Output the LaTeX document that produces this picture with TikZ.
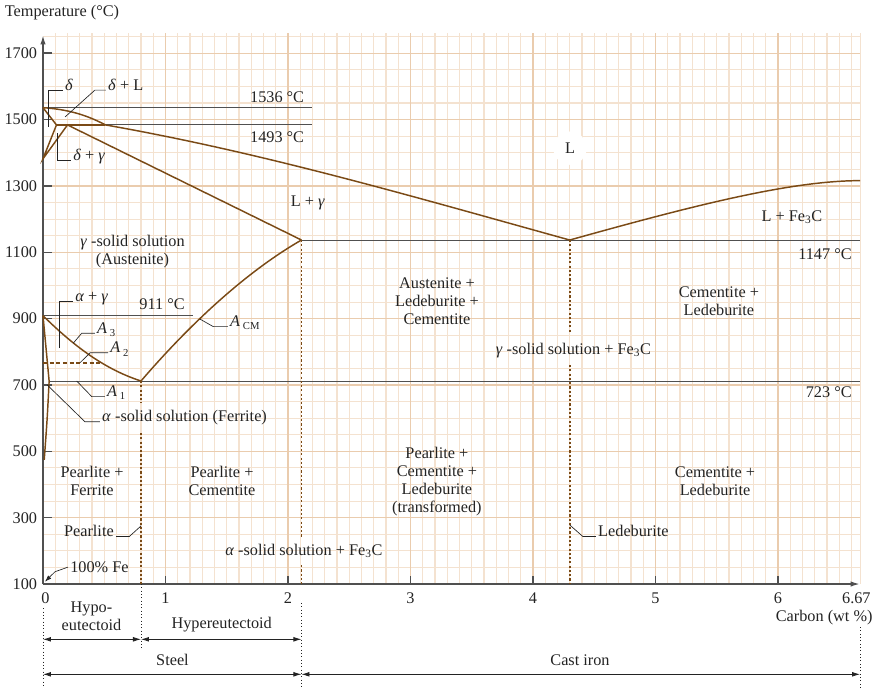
\documentclass[tikz,border=0pt]{standalone}
\usepackage{fontspec}
\setmainfont{Liberation Serif}
\usepackage{tikz}
\usetikzlibrary{arrows.meta,positioning,calc}

\definecolor{phasebrown}{RGB}{122,74,22}
\definecolor{gridminor}{RGB}{244,226,208}
\definecolor{gridmajor}{RGB}{234,204,174}
\definecolor{refgray}{RGB}{80,80,80}
\definecolor{ink}{RGB}{35,35,35}

\newcommand{\crit}[1]{\textit{A}\,\raisebox{-0.45ex}{\footnotesize #1}}

\begin{document}
\begin{tikzpicture}[x=91.875pt, y=0.2488pt,
    font=\fontsize{12.2}{13.5}\selectfont,
    phase/.style={draw=phasebrown, line width=1.1pt},
    eut/.style={draw=phasebrown, line width=1.3pt, dash pattern=on 1.6pt off 1.6pt},
    refline/.style={draw=refgray, line width=0.7pt},
    axisline/.style={draw=refgray, line width=1.2pt},
    leader/.style={draw=ink, line width=0.5pt},
    guide/.style={draw=ink, line width=0.5pt, dotted},
    lbl/.style={text=ink, inner sep=1.5pt},
    stack/.style={lbl, align=center},
    span/.style={draw=ink, line width=0.6pt, {Latex[length=6pt,width=3.6pt]}-{Latex[length=6pt,width=3.6pt]}}]
    \useasboundingbox (-0.351,-213.5) rectangle (6.833,1860.6);

    % Grid
    \foreach \c in {1,...,66} \draw[gridminor, line width=0.8pt] (\c/10,100) -- (\c/10,1760);
    \draw[gridminor, line width=0.8pt] (6.67,100) -- (6.67,1760);
    \foreach \t in {150,200,...,1750} \draw[gridminor, line width=0.8pt] (0,\t) -- (6.67,\t);
    \foreach \c in {1,...,6} \draw[gridmajor, line width=0.9pt] (\c,100) -- (\c,1760);
    \foreach \t in {300,500,...,1700} \draw[gridmajor, line width=0.9pt] (0,\t) -- (6.67,\t);

    % Axes
    \draw[axisline, -{Latex[length=7pt,width=4pt]}] (0,100) -- (0,1755);
    \draw[axisline, -{Latex[length=7pt,width=4pt]}] (0,100) -- (6.67,100);
    \foreach \t in {300,500,...,1700} \draw[axisline] (0,\t) -- (0.073,\t);
    \foreach \c in {1,...,6} \draw[axisline] (\c,100) -- (\c,124);
    \foreach \t in {100,300,...,1700} \node[lbl, anchor=east] (t\t) at (-0.03,\t) {\t};
    \node[lbl] (c0) at (0.02,57.8) {0};
    \foreach \c in {1,...,6} \node[lbl] (c\c) at (\c,57.8) {\c};
    \node[lbl] (cmax) at (6.64,57.8) {6.67};
    \node[lbl, anchor=east] (xname) at (6.79,-2.5) {Carbon (wt \%)};
    \node[lbl, anchor=west] (yname) at (-0.33,1824) {Temperature (°C)};

    % Key points
    \coordinate (A) at (0,1536);
    \coordinate (H) at (0.11,1484);
    \coordinate (J) at (0.2,1484);
    \coordinate (B) at (0.51,1484);
    \coordinate (N) at (0,1382);
    \coordinate (C) at (4.3,1137);
    \coordinate (D) at (6.67,1316);
    \coordinate (E) at (2.11,1137);
    \coordinate (G) at (0,909);
    \coordinate (S) at (0.8,712);
    \coordinate (P) at (0.05,712);
    \coordinate (Q) at (0.01,474);

    % Temperature lines
    \draw[refline] (A) -- (2.196,1536);
    \draw[refline] (H) -- (2.196,1484);
    \draw[refline] (E) -- (6.67,1137);
    \draw[refline] (G) -- (1.227,909);
    \draw[refline] (P) -- (6.67,712);

    % Phase boundaries
    \draw[phase] (A) .. controls (0.25,1530) and (0.4,1505) .. (B)
        .. controls (1.8,1400) and (3.0,1270) .. (C)
        .. controls (5.3,1240) and (6.1,1316) .. (D);
    \draw[phase] (A) -- (H) -- (N) -- (J);
    \draw[phase] (H) -- (B);
    \draw[phase] (J) -- (E);
    \draw[phase] (G) .. controls (0.25,818) and (0.5,748) .. (S)
        .. controls (1.25,905) and (1.7,1050) .. (E);
    \draw[phase] (G) -- (P) .. controls (0.035,600) .. (Q);
    \draw[phase, line width=1.2pt, dash pattern=on 3pt off 2pt] (0,767) -- (0.475,767);

    % Dotted verticals
    \draw[eut] (S) -- (0.8,646);
    \draw[eut] (0.8,555) -- (0.8,100);
    \draw[eut] (E) -- (2.11,239);
    \draw[eut] (2.11,157) -- (2.11,100);
    \draw[eut] (C) -- (4.3,857);
    \draw[eut] (4.3,760) -- (4.3,100);

    % Temperatures
    \node[lbl, anchor=east] (t1536) at (2.15,1568) {1536 °C};
    \node[lbl, anchor=east] (t1493) at (2.15,1448) {1493 °C};
    \node[lbl, anchor=east] (t911) at (1.175,944) {911 °C};
    \node[lbl, anchor=east] (t1147) at (6.62,1094) {1147 °C};
    \node[lbl, anchor=east] (t723) at (6.62,679) {723 °C};

    % Small fields with leaders
    \node[lbl, anchor=base west] (dlt) at (0.163,1587) {\textit{δ}};
    \draw[leader] (0.043,1479) |- (dlt.base west);
    \node[lbl, anchor=base west] (dL) at (0.514,1589) {\textit{δ} + L};
    \draw[leader] (0.18,1508) -- (0.424,1589) -- (dL.base west);
    \node[lbl, anchor=base west] (dg) at (0.229,1376) {\textit{δ} + \textit{γ}};
    \draw[leader] (0.117,1459) |- (dg.base west);
    \node[lbl, anchor=base west] (ag) at (0.245,951) {\textit{α} + \textit{γ}};
    \draw[leader] (0.133,811) |- (ag.base west);
    \node[lbl, anchor=base west] (a3) at (0.424,856) {\crit{3}};
    \draw[leader] (0.247,826) -- (0.316,856) -- (a3.base west);
    \node[lbl, anchor=base west] (a2) at (0.531,797) {\crit{2}};
    \draw[leader] (0.302,767) -- (0.384,797) -- (a2.base west);
    \node[lbl, anchor=base west] (acm) at (1.51,876) {\crit{CM}};
    \draw[leader] (1.28,899) -- (1.39,876) -- (acm.base west);
    \node[lbl, anchor=base west] (a1) at (0.506,665) {\crit{1}};
    \draw[leader] (0.275,712) -- (0.398,665) -- (a1.base west);
    \node[lbl, anchor=base west] (fer) at (0.465,589) {\textit{α} -solid solution (Ferrite)};
    \draw[leader] (0.035,700) -- (0.343,589) -- (fer.base west);
    \node[lbl, anchor=base east] (prl) at (0.596,243) {Pearlite};
    \draw[leader] (0.8,275) -- (0.704,243) -- (prl.base east);
    \node[lbl, anchor=base west] (ldb) at (4.514,243) {Ledeburite};
    \draw[leader] (4.3,278) -- (4.408,243) -- (ldb.base west);
    \node[lbl, anchor=west] (fe) at (0.204,151) {100\% Fe};
    \draw[leader, -{Latex[length=5pt,width=3.4pt]}] (fe.west) -- (0.098,137) -- (0.016,107);

    % Large fields
    \node[stack] (aus) at (0.731,1102) {\textit{γ} -solid solution\\(Austenite)};
    \node[lbl] (lg) at (2.163,1249) {L + \textit{γ}};
    \node[lbl, circle, fill=white, minimum size=25pt] (liq) at (4.302,1414) {L};
    \node[lbl] (lfe) at (6.114,1206) {L + Fe\textsubscript{3}C};
    \node[stack] (alc) at (3.216,953) {Austenite +\\Ledeburite +\\Cementite};
    \node[lbl] (gfe) at (4.33,805) {\textit{γ} -solid solution + Fe\textsubscript{3}C};
    \node[stack] (cl1) at (5.518,953) {Cementite +\\Ledeburite};
    \node[stack] (pf) at (0.4,410) {Pearlite +\\Ferrite};
    \node[stack] (pc) at (1.461,410) {Pearlite +\\Cementite};
    \node[stack] (pcl) at (3.216,410) {Pearlite +\\Cementite +\\Ledeburite\\(transformed)};
    \node[stack] (cl2) at (5.486,410) {Cementite +\\Ledeburite};
    \node[lbl] (afe) at (2.13,200) {\textit{α} -solid solution + Fe\textsubscript{3}C};

    % Steel and cast iron ranges
    \draw[guide] (0,27) -- (0,-213.5);
    \draw[guide] (0.8,100) -- (0.8,-99);
    \draw[guide] (2.11,43) -- (2.11,-213.5);
    \draw[guide] (6.67,-30) -- (6.67,-213.5);
    \coordinate (r0) at (0,-66.7);
    \coordinate (r1) at (0.8,-66.7);
    \coordinate (r2) at (2.11,-66.7);
    \coordinate (s0) at (0,-172.2);
    \coordinate (s1) at (2.11,-172.2);
    \coordinate (s2) at (6.67,-172.2);
    \draw[span] (r0) -- (r1);
    \draw[span] (r1) -- (r2);
    \draw[span] (s0) -- (s1);
    \draw[span] (s1) -- (s2);
    \node[stack] (hypo) at (0.396,2) {Hypo-\\eutectoid};
    \node[lbl] (hyper) at (1.459,-23.6) {Hypereutectoid};
    \node[lbl] (steel) at (1.057,-129) {Steel};
    \node[lbl] (cast) at (4.384,-129) {Cast iron};
\end{tikzpicture}
\end{document}
